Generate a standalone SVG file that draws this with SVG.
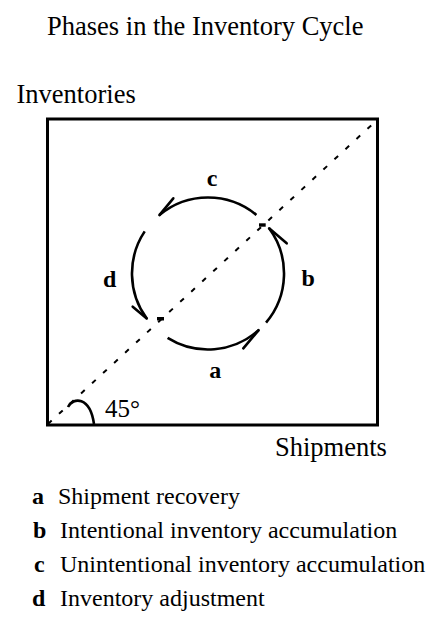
<svg xmlns="http://www.w3.org/2000/svg" width="433" height="617" viewBox="0 0 433 617">
<style>
text{font-family:"Liberation Serif","Times New Roman",serif;fill:#000}
.lbl{font-size:26.5px}
.ph{font-size:24px;font-weight:bold}
.lg{font-size:24px}
.arc{fill:none;stroke:#000;stroke-width:2.6;stroke-linecap:butt}
.barb{fill:none;stroke:#000;stroke-width:2.6;stroke-linecap:round}
</style>
<rect width="433" height="617" fill="#fff"/>
<g id="title"><text class="lbl" x="47" y="35">Phases in the Inventory Cycle</text></g>
<g id="axis-y"><text class="lbl" x="16.5" y="103">Inventories</text></g>
<g id="axis-x"><text class="lbl" x="275" y="456">Shipments</text></g>
<g id="frame"><rect x="47.5" y="119" width="330" height="306" fill="none" stroke="#000" stroke-width="3"/></g>
<g id="diagonal"><line x1="48" y1="424" x2="377" y2="120" stroke="#000" stroke-width="2" stroke-dasharray="5 10"/></g>
<g id="angle">
<path d="M68,407 C73,397 90,396 94,424" fill="none" stroke="#000" stroke-width="2.6"/>
<text x="105" y="417" font-size="25">45°</text>
</g>
<g id="markers">
<rect x="259" y="223.3" width="6.7" height="3.4" fill="#000"/>
<rect x="157" y="317" width="7" height="3.5" fill="#000"/>
</g>
<g id="connectors">
<g id="arc-a"><path class="arc" d="M167.6,337.9 A76,76 0 0 0 258.6,330.2"/><path class="barb" d="M258.6,330.2 L243.3,348.3"/></g>
<g id="arc-b"><path class="arc" d="M266.05,322.6 A76,76 0 0 0 269.1,228.3"/><path class="barb" d="M269.1,228.3 L286.7,243.3"/></g>
<g id="arc-c"><path class="arc" d="M256.4,214.9 A76,76 0 0 0 159.4,215.1"/><path class="barb" d="M159.4,215.1 L173.3,198.3"/></g>
<g id="arc-d"><path class="arc" d="M144.7,231.4 A76,76 0 0 0 146.75,318.5"/><path class="barb" d="M146.75,318.5 L132.7,306.7"/></g>
</g>
<g id="phase-labels">
<text class="ph" x="212" y="186" text-anchor="middle">c</text>
<text class="ph" x="109.7" y="286.5" text-anchor="middle">d</text>
<text class="ph" x="308.3" y="286" text-anchor="middle">b</text>
<text class="ph" x="215.3" y="378.3" text-anchor="middle">a</text>
</g>
<g id="legend">
<text class="ph" x="32" y="504">a</text><text class="lg" x="58" y="504">Shipment recovery</text>
<text class="ph" x="33" y="538">b</text><text class="lg" x="60" y="538">Intentional inventory accumulation</text>
<text class="ph" x="34" y="572">c</text><text class="lg" x="60" y="572">Unintentional inventory accumulation</text>
<text class="ph" x="32" y="606">d</text><text class="lg" x="60" y="606">Inventory adjustment</text>
</g>
</svg>
